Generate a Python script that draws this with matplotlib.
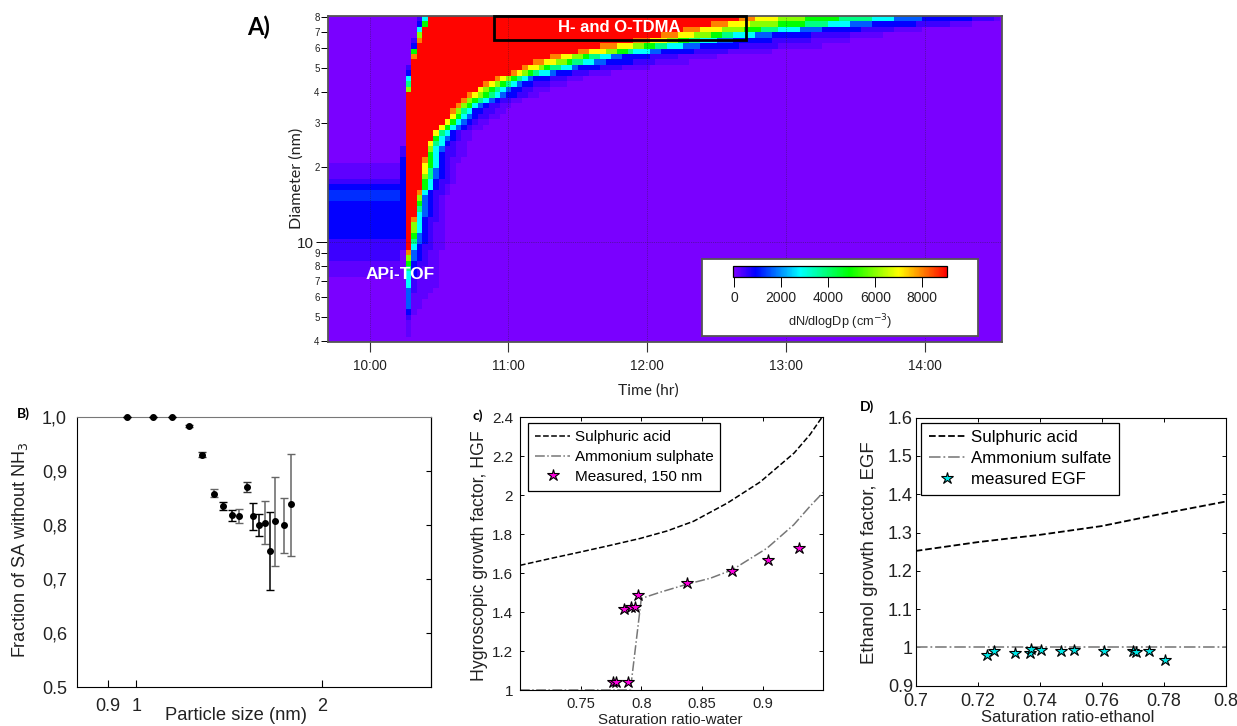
import numpy as np
import matplotlib
matplotlib.use('Agg')
import matplotlib.pyplot as plt
from matplotlib.colors import LinearSegmentedColormap, Normalize
from matplotlib.patches import Rectangle
from matplotlib.ticker import NullFormatter

W, H = 1237, 726
plt.rcParams['font.family'] = ['Liberation Sans', 'DejaVu Sans']

# ---- Panel A: size distribution, read row by row (bottom row first) ----
# one character per scan, level values below
level_values = {'0': 0, 'a': 200, '1': 450, '2': 900, 'b': 1250, '3': 1600, '4': 2800, '5': 3800,
                '6': 4900, '7': 6000, '8': 7000, '9': 8000, 'R': 9000}
# level before the event, one per diameter row
pre_event = '000000000000aaa11112222222bb21aaa0' + '0' * 26
# from scan 13 onwards, one string per diameter row
plume = [
    '00', '0a', '0a', '0a', '01', '02a', '03aa', '03aa', '03aaa', '031aaa',
    '041aaaa', '041aaaa', '0421aaa', '0521aaa', '06211aa', '07321aa', '09321aa',
    '1R4211aa', '1R5321aa', '2R6321aa', '2R7421aa', '2R7421aa', '2R94211a',
    '2RR4321a', '2RR5321a', '2RR6321a', '2RR7321a', '2RR94211a', '2RRR6421a',
    '2RRR64211a', '2RRR75321a', '2RRR85321a', '2RRR86421a', '2RRR96421aa',
    '1RRRR64211aa', '1RRRR74311aa', '0RRRR85421aa', '0RRRRR64321aa', '0RRRRR85421aa',
    '0' + 'R' * 6 + '864321aa',
    '0' + 'R' * 7 + '864321aa',
    '0' + 'R' * 8 + '8643211aa',
    '0' + 'R' * 8 + '97542211aa',
    '0' + 'R' * 9 + '97643211aa',
    '0' + 'R' * 10 + '976543211aa',
    '0' + 'R' * 11 + '98765432211aa',
    '07' + 'R' * 12 + '8765432211aaa',
    '05' + 'R' * 13 + '987654322111aaa',
    '04' + 'R' * 15 + '9876543222111aaa',
    '02' + 'R' * 18 + '98765443222111aaaa',
    '01' + 'R' * 20 + '988765544322221111aaaaa',
    '00' + 'R' * 22 + '9988776554' + '433' + '2' * 5 + '1' * 4 + 'a' * 6,
    '009' + 'R' * 24 + '9988776554' + '433' + '2' * 5 + '1' * 5 + 'a' * 7,
    '006' + 'R' * 29 + '99888776654' + '4433' + '2' * 6 + '1' * 6 + 'a' * 8,
    '002' + 'R' * 33 + '9998887766554' + '44333' + '2' * 7 + '1' * 7 + 'a' * 8,
    '0019' + 'R' * 38 + '9998887766554' + '44333' + '2' * 7 + '1' * 7 + 'a' * 7,
    '0007' + 'R' * 43 + '99988877766554' + '444333' + '2' * 7 + '1' * 7 + 'a' * 6,
    '0004' + 'R' * 47 + '999' + '8888' + '7777' + '666' + '555' + '44' + '44' + '3333' + '2' * 7 + '1' * 6 + 'a' * 5,
    '00026' + 'R' * 51 + '999' + '8888' + '77777' + '66666' + '5555' + '44' + '44' + '3333' + '2' * 8 + '1' * 6 + 'a' * 4,
    '00014' + 'R' * 56 + '999' + '8888' + '77777' + '666666' + '555555' + '44' + '44' + '33333' + '2' * 9 + '1' * 4 + 'a',
]
n_scans = 122

# ---- Panel B ----
size_b = [0.964, 1.063, 1.144, 1.216, 1.278, 1.334, 1.383, 1.427, 1.468, 1.509, 1.545, 1.580, 1.613, 1.644, 1.675, 1.733, 1.784]
frac_b = [1.0, 1.0, 1.0, 0.983, 0.930, 0.858, 0.835, 0.818, 0.817, 0.870, 0.816, 0.800, 0.804, 0.752, 0.808, 0.799, 0.838]
frac_hi = [1.0, 1.0, 1.0, 0.985, 0.934, 0.866, 0.842, 0.827, 0.830, 0.879, 0.840, 0.820, 0.844, 0.824, 0.889, 0.849, 0.932]
frac_lo = [1.0, 1.0, 1.0, 0.981, 0.926, 0.851, 0.827, 0.808, 0.804, 0.860, 0.791, 0.779, 0.764, 0.680, 0.725, 0.748, 0.743]
err_cols = ['k', 'k', 'k', '#333333', '#333333', '#666666', 'k', 'k', '#666666', '#333333', 'k', 'k', '#666666', 'k', '#666666', '#666666', '#666666']

# ---- Panel C ----
sa_x_c = [0.70, 0.725, 0.7495, 0.774, 0.799, 0.821, 0.843, 0.871, 0.898, 0.926, 0.939, 0.95]
sa_y_c = [1.64, 1.675, 1.708, 1.742, 1.778, 1.816, 1.866, 1.96, 2.068, 2.217, 2.311, 2.41]
as_x_c = [0.70, 0.791, 0.80, 0.8156, 0.8376, 0.857, 0.875, 0.9036, 0.9256, 0.939, 0.95]
as_y_c = [1.0, 1.0, 1.47, 1.502, 1.543, 1.574, 1.617, 1.728, 1.848, 1.943, 2.015]
meas_x_c = [0.777, 0.7793, 0.7889, 0.7859, 0.7914, 0.7947, 0.7974, 0.8379, 0.8747, 0.9047, 0.9298]
meas_y_c = [1.043, 1.039, 1.043, 1.416, 1.428, 1.428, 1.488, 1.547, 1.610, 1.668, 1.728]

# ---- Panel D ----
sa_x_d = [0.70, 0.72, 0.74, 0.76, 0.78, 0.80]
sa_y_d = [1.252, 1.275, 1.294, 1.317, 1.350, 1.381]
as_x_d = [0.70, 0.80]
as_y_d = [1.0, 1.0]
meas_x_d = [0.7229, 0.7252, 0.7319, 0.7370, 0.7372, 0.7405, 0.7468, 0.7510, 0.7606, 0.7701, 0.7711, 0.7752, 0.7804]
meas_y_d = [0.981, 0.990, 0.985, 0.985, 0.996, 0.994, 0.991, 0.994, 0.991, 0.990, 0.988, 0.991, 0.966]


def px_axes(left, top, right, bottom):
    return fig.add_axes([left / W, 1 - bottom / H, (right - left) / W, (bottom - top) / H])


def px_text(x, y, s, **kw):
    fig.text(x / W, 1 - y / H, s, ha=kw.pop('ha', 'center'), va=kw.pop('va', 'center'), **kw)


fig = plt.figure(figsize=(W / 100, H / 100), dpi=100)

# ---- A ----
rows = [pre_event[i] * 13 + plume[i] for i in range(60)]
Z = np.array([[level_values[c] for c in r.ljust(n_scans, '0')[:n_scans]] for r in rows], dtype=float)
t_edges = 9.70 + 0.04 * np.arange(n_scans + 1)
d_edges = np.geomspace(3.97, 80.8, 61)

rainbow = LinearSegmentedColormap.from_list('igor', [
    (0.0, '#7f00ff'), (950 / 9100, '#0000ff'), (2850 / 9100, '#00ffff'),
    (4950 / 9100, '#00ff00'), (7050 / 9100, '#ffff00'), (1.0, '#ff0000')])
norm = Normalize(-50, 9050)

ax = px_axes(328, 16, 1002, 342)
mesh = ax.pcolormesh(t_edges, d_edges, Z, cmap=rainbow, norm=norm, shading='flat', antialiased=False)
ax.set_yscale('log')
ax.set_xlim(9.70, 14.557)
ax.set_ylim(3.97, 80.8)
ax.set_xticks([10, 11, 12, 13, 14])
ax.set_xticklabels(['10:00', '11:00', '12:00', '13:00', '14:00'], fontsize=9.8, color='#222222')
ax.tick_params(axis='x', length=7.5, width=0.8, pad=5, color='#333333')
ax.set_yticks([10])
ax.set_yticklabels(['10'], fontsize=11, color='#222222')
ax.set_yticks([4, 5, 6, 7, 8, 9, 20, 30, 40, 50, 60, 70, 80], minor=True)
ax.set_yticklabels(['4', '5', '6', '7', '8', '9', '2', '3', '4', '5', '6', '7', '8'], minor=True, fontsize=7, color='#222222')
ax.tick_params(axis='y', which='major', length=9, width=0.7, pad=1)
ax.tick_params(axis='y', which='minor', length=5, width=0.7, pad=1)
for hr in [10, 11, 12, 13, 14]:
    ax.axvline(hr, color='#222222', lw=0.5, ls=':', alpha=0.7)
ax.axhline(10, color='#222222', lw=0.5, ls=':', alpha=0.7)
for s in ax.spines.values():
    s.set_color('#555555')
    s.set_linewidth(1.3)
ax.add_patch(Rectangle((10.894, 65), 1.817, 15.7, fill=False, ec='k', lw=2, zorder=5, clip_on=False))
ax.text(11.80, 72.5, 'H- and O-TDMA', color='white', fontweight='bold', fontsize=12, ha='center', va='center', zorder=6)
ax.text(10.22, 7.44, 'APi-TOF', color='white', fontweight='bold', fontsize=12.5, ha='center', va='center', zorder=6)

box = px_axes(702, 259, 978, 336)
box.set_xticks([])
box.set_yticks([])
for s in box.spines.values():
    s.set_color('#555555')
    s.set_linewidth(1.3)
cax = px_axes(733, 266, 947, 277)
cb = fig.colorbar(mesh, cax=cax, orientation='horizontal', ticks=[0, 2000, 4000, 6000, 8000])
cb.ax.tick_params(length=7, width=0.7, labelsize=10, pad=3, labelcolor='#222222')
cb.outline.set_linewidth(0.9)
px_text(840, 322, 'dN/dlogDp (cm$^{-3}$)', fontsize=9.2, color='#222222', math_fontfamily='custom')

px_text(648, 391, 'Time (hr)', fontsize=11.2, family='Lato', color='#222222')
px_text(297, 178, 'Diameter (nm)', fontsize=11.6, family='Lato', rotation=90, color='#222222')
px_text(259, 27, 'A)', fontsize=17, fontweight='bold', family='Lato')

# ---- B ----
ax = px_axes(76.7, 416.7, 430.7, 687.3)
lower = np.array(frac_b) - np.array(frac_lo)
upper = np.array(frac_hi) - np.array(frac_b)
for i in range(len(size_b)):
    ax.errorbar(size_b[i], frac_b[i], yerr=[[lower[i]], [upper[i]]], fmt='o', color='k', ms=4,
                ecolor=err_cols[i], elinewidth=1.1, capsize=3, capthick=1, clip_on=False, zorder=4)
ax.set_xscale('log')
ax.set_xlim(0.8, 3.0)
ax.set_ylim(0.5, 1.0)
ax.set_xticks([0.9, 1, 2])
ax.set_xticklabels(['0.9', '1', '2'], fontsize=13, color='#222222')
ax.xaxis.set_minor_formatter(NullFormatter())
ax.set_xticks([], minor=True)
ax.set_yticks([0.5, 0.6, 0.7, 0.8, 0.9, 1.0])
ax.set_yticklabels(['0.5', '0,6', '0,7', '0,8', '0,9', '1,0'], fontsize=13, color='#222222')
ax.tick_params(axis='x', direction='in', length=5, width=0.8, pad=8)
ax.tick_params(axis='y', length=0, pad=7)
ax.spines['top'].set_color('#777777')
ax2 = ax.secondary_yaxis('right')
ax2.set_yticks([0.6, 0.7, 0.8, 0.9])
ax2.set_yticklabels([])
ax2.tick_params(direction='in', length=3.5, width=0.8)
px_text(236, 716, 'Particle size (nm)', fontsize=13.2, color='#222222')
px_text(20, 550, 'Fraction of SA without NH$_3$', fontsize=13, rotation=90, color='#222222',
        math_fontfamily='custom')
px_text(23, 414, 'B)', fontsize=10, fontweight='bold', family='Lato')

# ---- C ----
ax = px_axes(520, 417.3, 823.3, 690)
ax.plot(sa_x_c, sa_y_c, color='k', ls='--', lw=1.1, label='Sulphuric acid')
ax.plot(as_x_c, as_y_c, color='#777777', ls='-.', lw=1.1, label='Ammonium sulphate')
ax.plot(meas_x_c, meas_y_c, ls='none', marker='*', ms=9, mfc='#ff00e0', mec='k', mew=0.8, label='Measured, 150 nm')
ax.set_xlim(0.70, 0.95)
ax.set_ylim(1.0, 2.4)
ax.set_xticks([0.75, 0.8, 0.85, 0.9])
ax.set_xticklabels(['0.75', '0.8', '0.85', '0.9'], fontsize=10.6, color='#222222')
ax.set_yticks([1, 1.2, 1.4, 1.6, 1.8, 2, 2.2, 2.4])
ax.set_yticklabels(['1', '1.2', '1.4', '1.6', '1.8', '2', '2.2', '2.4'], fontsize=11, color='#222222')
ax.tick_params(direction='in', length=3, width=0.7, top=True, right=True, pad=5)
leg = ax.legend(loc='upper left', bbox_to_anchor=(0.027, 0.978), fontsize=11, fancybox=False, framealpha=1,
                edgecolor='k', borderaxespad=0, handlelength=2.3, labelspacing=0.38, handletextpad=0.3, borderpad=0.45)
leg.get_frame().set_linewidth(0.9)
px_text(670, 720, 'Saturation ratio-water', fontsize=10.9, color='#222222')
px_text(480, 556, 'Hygroscopic growth factor, HGF', fontsize=12.7, rotation=90, color='#222222')
px_text(478, 416, 'c)', fontsize=10, fontweight='bold', family='Lato')

# ---- D ----
ax = px_axes(915.7, 417.7, 1225.7, 685.7)
ax.plot(sa_x_d, sa_y_d, color='k', ls='--', lw=1.3, label='Sulphuric acid')
ax.plot(as_x_d, as_y_d, color='#888888', ls='-.', lw=1.3, label='Ammonium sulfate')
ax.plot(meas_x_d, meas_y_d, ls='none', marker='*', ms=9, mfc='#00e8e8', mec='k', mew=0.8, label='measured EGF')
ax.set_xlim(0.70, 0.80)
ax.set_ylim(0.9, 1.6)
ax.set_xticks([0.7, 0.72, 0.74, 0.76, 0.78, 0.8])
ax.set_xticklabels(['0.7', '0.72', '0.74', '0.76', '0.78', '0.8'], fontsize=13, color='#222222')
ax.set_yticks([0.9, 1, 1.1, 1.2, 1.3, 1.4, 1.5, 1.6])
ax.set_yticklabels(['0.9', '1', '1.1', '1.2', '1.3', '1.4', '1.5', '1.6'], fontsize=13, color='#222222')
ax.tick_params(direction='in', length=3, width=0.7, top=True, right=True)
ax.tick_params(axis='x', pad=5)
ax.tick_params(axis='y', pad=2)
leg = ax.legend(loc='upper left', bbox_to_anchor=(0.017, 0.982), fontsize=12.2, fancybox=False, framealpha=1,
                edgecolor='k', borderaxespad=0, handlelength=2.2, labelspacing=0.35, handletextpad=0.3, borderpad=0.45)
leg.get_frame().set_linewidth(0.9)
px_text(1068, 718, 'Saturation ratio-ethanol', fontsize=11.9, color='#222222')
px_text(870, 553, 'Ethanol growth factor, EGF', fontsize=13.4, rotation=90, color='#222222')
px_text(867, 407, 'D)', fontsize=10, fontweight='bold', family='Lato')

fig.savefig('out.png', dpi=100)
